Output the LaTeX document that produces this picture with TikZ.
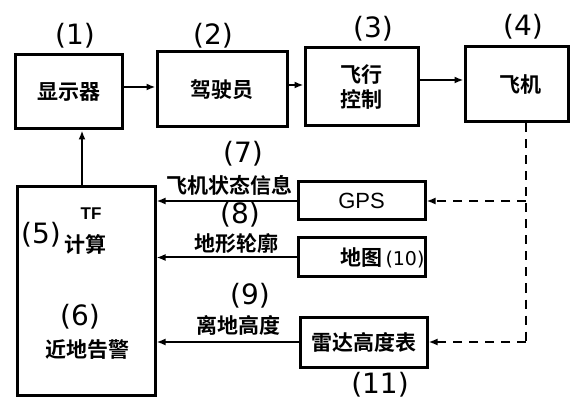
\documentclass[tikz,border=0pt]{standalone}
\usepackage{fontspec}
\setmainfont{Noto Sans CJK SC}[BoldFont={Noto Sans CJK SC Bold}]
\newfontfamily\numfont{DejaVu Sans}
\newfontfamily\latinfont{Liberation Sans}
\usetikzlibrary{arrows.meta}
\begin{document}
\begin{tikzpicture}[x=1pt,y=-1pt,
  box/.style={draw,line width=3pt,inner sep=0pt,font=\bfseries\fontsize{21}{25}\selectfont},
  arr/.style={line width=2pt,-{Latex[length=9pt,width=7pt]}},
  darr/.style={line width=2pt,dash pattern=on 9pt off 7pt,-{Latex[length=9pt,width=7pt]}},
  dln/.style={line width=2pt,dash pattern=on 9pt off 7pt},
  num/.style={font=\numfont\fontsize{28}{30}\selectfont,inner sep=0pt},
  lbl/.style={font=\bfseries\fontsize{21}{25}\selectfont,inner sep=0pt}]
\useasboundingbox (0,0) rectangle (570,403);
% boxes
\node[box,minimum width=107pt,minimum height=74pt] (b1) at (68.5,92) {显示器};
\node[box,minimum width=130pt,minimum height=75pt] (b2) at (222,89.5) {驾驶员};
\node[box,minimum width=113pt,minimum height=78pt,align=center] (b3) at (361.5,87) {飞行\\控制};
\node[box,minimum width=103pt,minimum height=75pt] (b4) at (516.5,84.5) {\hspace{8pt}飞机};
\node[box,minimum width=138pt,minimum height=208pt] (b5) at (86,291) {};
\node[box,minimum width=127pt,minimum height=38pt,font=\latinfont\fontsize{22}{24}\selectfont] (gps) at (361.5,201) {GPS};
\node[box,minimum width=127pt,minimum height=39pt] (map) at (361.5,257.5) {};
\node[box,minimum width=127pt,minimum height=50pt] (radar) at (363.5,342) {雷达高度表};
% box numbers
\node[num] (n1) at (75,36) {(1)};
\node[num] (n2) at (213,36) {(2)};
\node[num] (n3) at (373,29) {(3)};
\node[num] (n4) at (523,27) {(4)};
\node[lbl] (tmap) at (361,258) {地图};
\node[num,font=\numfont\fontsize{19}{21}\selectfont] (n10) at (405,260) {(10)};
\node[num] (n11) at (380,385) {(11)};
% inside box 5
\node[num] (n5) at (41,235) {(5)};
\node[font=\latinfont\bfseries\fontsize{17}{19}\selectfont,inner sep=0pt] (tf) at (91,214) {TF};
\node[lbl] (calc) at (85,244) {计算};
\node[num] (n6) at (80,317) {(6)};
\node[lbl] (warn) at (87,350) {近地告警};
% signal labels
\node[num] (n7) at (243,154) {(7)};
\node[lbl] (l7) at (229,185) {飞机状态信息};
\node[num] (n8) at (240,215) {(8)};
\node[lbl] (l8) at (236,244) {地形轮廓};
\node[num] (n9) at (250,296) {(9)};
\node[lbl] (l9) at (238,325) {离地高度};
% forward chain
\draw[arr] (b1.east |- 0,87) -- (b2.west |- 0,87);
\draw[arr] (b2.east |- 0,85) -- (b3.west |- 0,85);
\draw[arr] (b3.east |- 0,80) -- (b4.west |- 0,80);
\draw[arr] (b5.north -| 82,0) -- (b1.south -| 82,0);
% inputs to box 5
\draw[arr] (gps.west) -- (gps.west -| b5.east);
\draw[arr] (map.west) -- (map.west -| b5.east);
\draw[arr] (radar.west) -- (radar.west -| b5.east);
% dashed feedback
\coordinate (top) at (b4.south -| 526,0);
\coordinate (corner) at (526,342);
\coordinate (branch) at (526,201);
\draw[dln] (top) -- (corner);
\draw[darr] (corner) -- (radar.east);
\draw[darr] (branch) -- (gps.east);
\end{tikzpicture}
\end{document}
